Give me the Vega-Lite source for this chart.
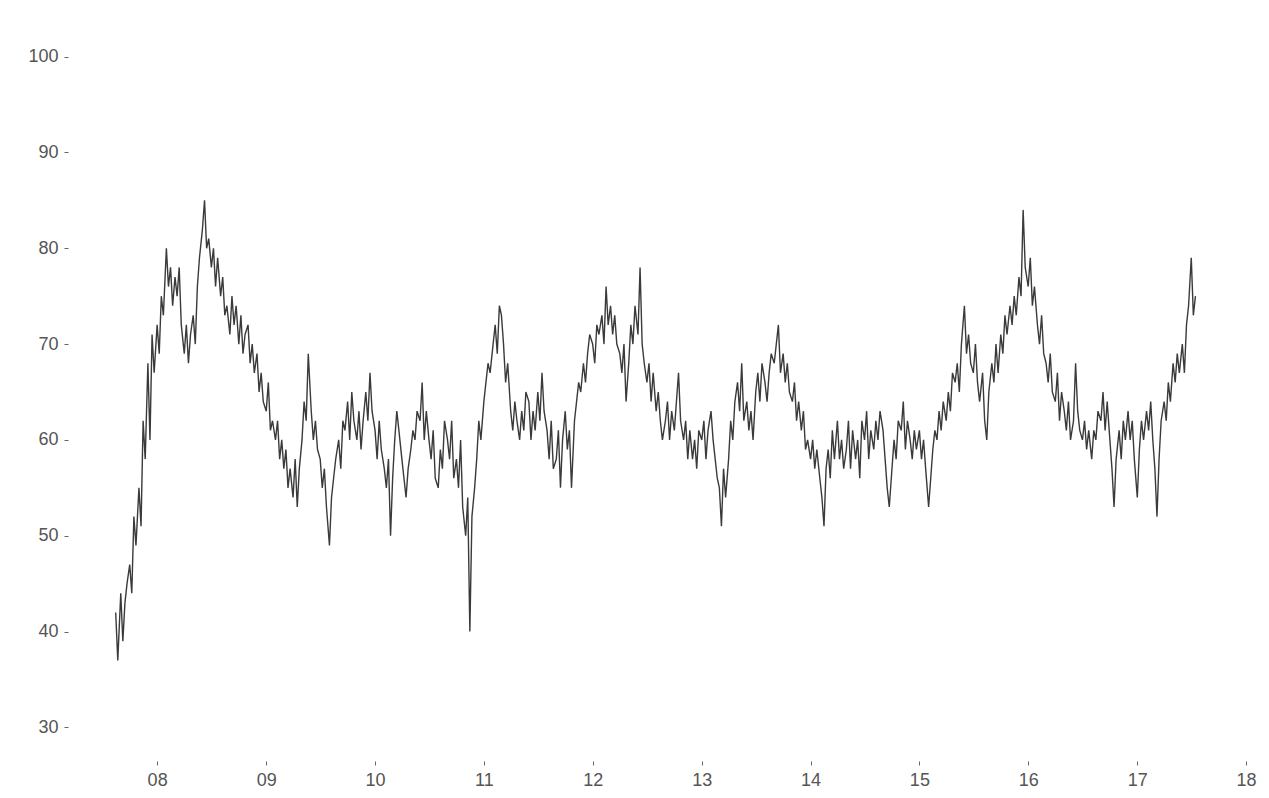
{
"$schema": "https://vega.github.io/schema/vega-lite/v6.json",
"autosize": {"type": "none"},
"padding": {"left": 68, "top": 23, "right": 5, "bottom": 37},
"width": 1196,
"height": 738,
"background": "white",
"config": {"view": {"stroke": null}, "font": "Liberation Sans"},
"datasets": {"s": [
{"d":"2007-08-15","v":42},{"d":"2007-08-22","v":37},
{"d":"2007-09-01","v":44},{"d":"2007-09-08","v":39},{"d":"2007-09-15","v":43},{"d":"2007-09-22","v":45},
{"d":"2007-10-01","v":47},{"d":"2007-10-08","v":44},{"d":"2007-10-15","v":52},{"d":"2007-10-22","v":49},
{"d":"2007-11-01","v":55},{"d":"2007-11-08","v":51},{"d":"2007-11-15","v":62},{"d":"2007-11-22","v":58},
{"d":"2007-12-01","v":68},{"d":"2007-12-08","v":60},{"d":"2007-12-15","v":71},{"d":"2007-12-22","v":67},
{"d":"2008-01-01","v":72},{"d":"2008-01-08","v":69},{"d":"2008-01-15","v":75},{"d":"2008-01-22","v":73},
{"d":"2008-02-01","v":80},{"d":"2008-02-08","v":76},{"d":"2008-02-15","v":78},{"d":"2008-02-22","v":74},
{"d":"2008-03-01","v":77},{"d":"2008-03-08","v":75},{"d":"2008-03-15","v":78},{"d":"2008-03-22","v":72},
{"d":"2008-04-01","v":69},{"d":"2008-04-08","v":72},{"d":"2008-04-15","v":68},{"d":"2008-04-22","v":71},
{"d":"2008-05-01","v":73},{"d":"2008-05-08","v":70},{"d":"2008-05-15","v":76},{"d":"2008-05-22","v":79},
{"d":"2008-06-01","v":82},{"d":"2008-06-08","v":85},{"d":"2008-06-15","v":80},{"d":"2008-06-22","v":81},
{"d":"2008-07-01","v":78},{"d":"2008-07-08","v":80},{"d":"2008-07-15","v":76},{"d":"2008-07-22","v":79},
{"d":"2008-08-01","v":75},{"d":"2008-08-08","v":77},{"d":"2008-08-15","v":73},{"d":"2008-08-22","v":74},
{"d":"2008-09-01","v":71},{"d":"2008-09-08","v":75},{"d":"2008-09-15","v":72},{"d":"2008-09-22","v":74},
{"d":"2008-10-01","v":70},{"d":"2008-10-08","v":73},{"d":"2008-10-15","v":69},{"d":"2008-10-22","v":71},
{"d":"2008-11-01","v":72},{"d":"2008-11-08","v":68},{"d":"2008-11-15","v":70},{"d":"2008-11-22","v":67},
{"d":"2008-12-01","v":69},{"d":"2008-12-08","v":65},{"d":"2008-12-15","v":67},{"d":"2008-12-22","v":64},
{"d":"2009-01-01","v":63},{"d":"2009-01-08","v":66},{"d":"2009-01-15","v":61},{"d":"2009-01-22","v":62},
{"d":"2009-02-01","v":60},{"d":"2009-02-08","v":62},{"d":"2009-02-15","v":58},{"d":"2009-02-22","v":60},
{"d":"2009-03-01","v":57},{"d":"2009-03-08","v":59},{"d":"2009-03-15","v":55},{"d":"2009-03-22","v":57},
{"d":"2009-04-01","v":54},{"d":"2009-04-08","v":58},{"d":"2009-04-15","v":53},{"d":"2009-04-22","v":57},
{"d":"2009-05-01","v":60},{"d":"2009-05-08","v":64},{"d":"2009-05-15","v":62},{"d":"2009-05-22","v":69},
{"d":"2009-06-01","v":63},{"d":"2009-06-08","v":60},{"d":"2009-06-15","v":62},{"d":"2009-06-22","v":59},
{"d":"2009-07-01","v":58},{"d":"2009-07-08","v":55},{"d":"2009-07-15","v":57},{"d":"2009-07-22","v":53},
{"d":"2009-08-01","v":49},{"d":"2009-08-08","v":54},{"d":"2009-08-15","v":56},{"d":"2009-08-22","v":58},
{"d":"2009-09-01","v":60},{"d":"2009-09-08","v":57},{"d":"2009-09-15","v":62},{"d":"2009-09-22","v":61},
{"d":"2009-10-01","v":64},{"d":"2009-10-08","v":60},{"d":"2009-10-15","v":65},{"d":"2009-10-22","v":62},
{"d":"2009-11-01","v":60},{"d":"2009-11-08","v":63},{"d":"2009-11-15","v":59},{"d":"2009-11-22","v":62},
{"d":"2009-12-01","v":65},{"d":"2009-12-08","v":62},{"d":"2009-12-15","v":67},{"d":"2009-12-22","v":63},
{"d":"2010-01-01","v":61},{"d":"2010-01-08","v":58},{"d":"2010-01-15","v":62},{"d":"2010-01-22","v":59},
{"d":"2010-02-01","v":57},{"d":"2010-02-08","v":55},{"d":"2010-02-15","v":58},{"d":"2010-02-22","v":50},
{"d":"2010-03-01","v":56},{"d":"2010-03-08","v":60},{"d":"2010-03-15","v":63},{"d":"2010-03-22","v":61},
{"d":"2010-04-01","v":58},{"d":"2010-04-08","v":56},{"d":"2010-04-15","v":54},{"d":"2010-04-22","v":57},
{"d":"2010-05-01","v":59},{"d":"2010-05-08","v":61},{"d":"2010-05-15","v":60},{"d":"2010-05-22","v":63},
{"d":"2010-06-01","v":62},{"d":"2010-06-08","v":66},{"d":"2010-06-15","v":60},{"d":"2010-06-22","v":63},
{"d":"2010-07-01","v":60},{"d":"2010-07-08","v":58},{"d":"2010-07-15","v":61},{"d":"2010-07-22","v":56},
{"d":"2010-08-01","v":55},{"d":"2010-08-08","v":59},{"d":"2010-08-15","v":57},{"d":"2010-08-22","v":62},
{"d":"2010-09-01","v":60},{"d":"2010-09-08","v":58},{"d":"2010-09-15","v":62},{"d":"2010-09-22","v":56},
{"d":"2010-10-01","v":58},{"d":"2010-10-08","v":55},{"d":"2010-10-15","v":60},{"d":"2010-10-22","v":53},
{"d":"2010-11-01","v":50},{"d":"2010-11-08","v":54},{"d":"2010-11-15","v":40},{"d":"2010-11-22","v":52},
{"d":"2010-12-01","v":55},{"d":"2010-12-08","v":58},{"d":"2010-12-15","v":62},{"d":"2010-12-22","v":60},
{"d":"2011-01-01","v":64},{"d":"2011-01-08","v":66},{"d":"2011-01-15","v":68},{"d":"2011-01-22","v":67},
{"d":"2011-02-01","v":70},{"d":"2011-02-08","v":72},{"d":"2011-02-15","v":69},{"d":"2011-02-22","v":74},
{"d":"2011-03-01","v":73},{"d":"2011-03-08","v":70},{"d":"2011-03-15","v":66},{"d":"2011-03-22","v":68},
{"d":"2011-04-01","v":63},{"d":"2011-04-08","v":61},{"d":"2011-04-15","v":64},{"d":"2011-04-22","v":62},
{"d":"2011-05-01","v":60},{"d":"2011-05-08","v":63},{"d":"2011-05-15","v":61},{"d":"2011-05-22","v":65},
{"d":"2011-06-01","v":64},{"d":"2011-06-08","v":60},{"d":"2011-06-15","v":63},{"d":"2011-06-22","v":61},
{"d":"2011-07-01","v":65},{"d":"2011-07-08","v":62},{"d":"2011-07-15","v":67},{"d":"2011-07-22","v":63},
{"d":"2011-08-01","v":61},{"d":"2011-08-08","v":58},{"d":"2011-08-15","v":62},{"d":"2011-08-22","v":57},
{"d":"2011-09-01","v":58},{"d":"2011-09-08","v":61},{"d":"2011-09-15","v":55},{"d":"2011-09-22","v":60},
{"d":"2011-10-01","v":63},{"d":"2011-10-08","v":59},{"d":"2011-10-15","v":61},{"d":"2011-10-22","v":55},
{"d":"2011-11-01","v":62},{"d":"2011-11-08","v":64},{"d":"2011-11-15","v":66},{"d":"2011-11-22","v":65},
{"d":"2011-12-01","v":68},{"d":"2011-12-08","v":66},{"d":"2011-12-15","v":69},{"d":"2011-12-22","v":71},
{"d":"2012-01-01","v":70},{"d":"2012-01-08","v":68},{"d":"2012-01-15","v":72},{"d":"2012-01-22","v":71},
{"d":"2012-02-01","v":73},{"d":"2012-02-08","v":70},{"d":"2012-02-15","v":76},{"d":"2012-02-22","v":72},
{"d":"2012-03-01","v":74},{"d":"2012-03-08","v":71},{"d":"2012-03-15","v":73},{"d":"2012-03-22","v":70},
{"d":"2012-04-01","v":69},{"d":"2012-04-08","v":67},{"d":"2012-04-15","v":70},{"d":"2012-04-22","v":64},
{"d":"2012-05-01","v":68},{"d":"2012-05-08","v":72},{"d":"2012-05-15","v":70},{"d":"2012-05-22","v":74},
{"d":"2012-06-01","v":71},{"d":"2012-06-08","v":78},{"d":"2012-06-15","v":70},{"d":"2012-06-22","v":68},
{"d":"2012-07-01","v":66},{"d":"2012-07-08","v":68},{"d":"2012-07-15","v":64},{"d":"2012-07-22","v":67},
{"d":"2012-08-01","v":63},{"d":"2012-08-08","v":65},{"d":"2012-08-15","v":62},{"d":"2012-08-22","v":60},
{"d":"2012-09-01","v":62},{"d":"2012-09-08","v":64},{"d":"2012-09-15","v":60},{"d":"2012-09-22","v":63},
{"d":"2012-10-01","v":61},{"d":"2012-10-08","v":64},{"d":"2012-10-15","v":67},{"d":"2012-10-22","v":62},
{"d":"2012-11-01","v":60},{"d":"2012-11-08","v":62},{"d":"2012-11-15","v":58},{"d":"2012-11-22","v":61},
{"d":"2012-12-01","v":58},{"d":"2012-12-08","v":60},{"d":"2012-12-15","v":57},{"d":"2012-12-22","v":61},
{"d":"2013-01-01","v":60},{"d":"2013-01-08","v":62},{"d":"2013-01-15","v":58},{"d":"2013-01-22","v":61},
{"d":"2013-02-01","v":63},{"d":"2013-02-08","v":60},{"d":"2013-02-15","v":58},{"d":"2013-02-22","v":56},
{"d":"2013-03-01","v":55},{"d":"2013-03-08","v":51},{"d":"2013-03-15","v":57},{"d":"2013-03-22","v":54},
{"d":"2013-04-01","v":58},{"d":"2013-04-08","v":62},{"d":"2013-04-15","v":60},{"d":"2013-04-22","v":64},
{"d":"2013-05-01","v":66},{"d":"2013-05-08","v":63},{"d":"2013-05-15","v":68},{"d":"2013-05-22","v":62},
{"d":"2013-06-01","v":64},{"d":"2013-06-08","v":61},{"d":"2013-06-15","v":63},{"d":"2013-06-22","v":60},
{"d":"2013-07-01","v":65},{"d":"2013-07-08","v":67},{"d":"2013-07-15","v":64},{"d":"2013-07-22","v":68},
{"d":"2013-08-01","v":66},{"d":"2013-08-08","v":64},{"d":"2013-08-15","v":67},{"d":"2013-08-22","v":69},
{"d":"2013-09-01","v":68},{"d":"2013-09-08","v":70},{"d":"2013-09-15","v":72},{"d":"2013-09-22","v":67},
{"d":"2013-10-01","v":69},{"d":"2013-10-08","v":66},{"d":"2013-10-15","v":68},{"d":"2013-10-22","v":65},
{"d":"2013-11-01","v":64},{"d":"2013-11-08","v":66},{"d":"2013-11-15","v":62},{"d":"2013-11-22","v":64},
{"d":"2013-12-01","v":61},{"d":"2013-12-08","v":63},{"d":"2013-12-15","v":59},{"d":"2013-12-22","v":60},
{"d":"2014-01-01","v":58},{"d":"2014-01-08","v":60},{"d":"2014-01-15","v":57},{"d":"2014-01-22","v":59},
{"d":"2014-02-01","v":56},{"d":"2014-02-08","v":54},{"d":"2014-02-15","v":51},{"d":"2014-02-22","v":57},
{"d":"2014-03-01","v":59},{"d":"2014-03-08","v":56},{"d":"2014-03-15","v":61},{"d":"2014-03-22","v":58},
{"d":"2014-04-01","v":62},{"d":"2014-04-08","v":58},{"d":"2014-04-15","v":60},{"d":"2014-04-22","v":57},
{"d":"2014-05-01","v":59},{"d":"2014-05-08","v":62},{"d":"2014-05-15","v":57},{"d":"2014-05-22","v":61},
{"d":"2014-06-01","v":58},{"d":"2014-06-08","v":60},{"d":"2014-06-15","v":56},{"d":"2014-06-22","v":62},
{"d":"2014-07-01","v":60},{"d":"2014-07-08","v":63},{"d":"2014-07-15","v":58},{"d":"2014-07-22","v":61},
{"d":"2014-08-01","v":59},{"d":"2014-08-08","v":62},{"d":"2014-08-15","v":60},{"d":"2014-08-22","v":63},
{"d":"2014-09-01","v":61},{"d":"2014-09-08","v":58},{"d":"2014-09-15","v":55},{"d":"2014-09-22","v":53},
{"d":"2014-10-01","v":57},{"d":"2014-10-08","v":60},{"d":"2014-10-15","v":58},{"d":"2014-10-22","v":62},
{"d":"2014-11-01","v":61},{"d":"2014-11-08","v":64},{"d":"2014-11-15","v":59},{"d":"2014-11-22","v":62},
{"d":"2014-12-01","v":60},{"d":"2014-12-08","v":58},{"d":"2014-12-15","v":61},{"d":"2014-12-22","v":59},
{"d":"2015-01-01","v":61},{"d":"2015-01-08","v":58},{"d":"2015-01-15","v":60},{"d":"2015-01-22","v":57},
{"d":"2015-02-01","v":53},{"d":"2015-02-08","v":56},{"d":"2015-02-15","v":59},{"d":"2015-02-22","v":61},
{"d":"2015-03-01","v":60},{"d":"2015-03-08","v":63},{"d":"2015-03-15","v":61},{"d":"2015-03-22","v":64},
{"d":"2015-04-01","v":62},{"d":"2015-04-08","v":65},{"d":"2015-04-15","v":63},{"d":"2015-04-22","v":67},
{"d":"2015-05-01","v":66},{"d":"2015-05-08","v":68},{"d":"2015-05-15","v":65},{"d":"2015-05-22","v":70},
{"d":"2015-06-01","v":74},{"d":"2015-06-08","v":69},{"d":"2015-06-15","v":71},{"d":"2015-06-22","v":68},
{"d":"2015-07-01","v":67},{"d":"2015-07-08","v":70},{"d":"2015-07-15","v":66},{"d":"2015-07-22","v":64},
{"d":"2015-08-01","v":67},{"d":"2015-08-08","v":62},{"d":"2015-08-15","v":60},{"d":"2015-08-22","v":65},
{"d":"2015-09-01","v":68},{"d":"2015-09-08","v":66},{"d":"2015-09-15","v":70},{"d":"2015-09-22","v":67},
{"d":"2015-10-01","v":71},{"d":"2015-10-08","v":69},{"d":"2015-10-15","v":73},{"d":"2015-10-22","v":71},
{"d":"2015-11-01","v":74},{"d":"2015-11-08","v":72},{"d":"2015-11-15","v":75},{"d":"2015-11-22","v":73},
{"d":"2015-12-01","v":77},{"d":"2015-12-08","v":75},{"d":"2015-12-15","v":84},{"d":"2015-12-22","v":78},
{"d":"2016-01-01","v":76},{"d":"2016-01-08","v":79},{"d":"2016-01-15","v":74},{"d":"2016-01-22","v":76},
{"d":"2016-02-01","v":72},{"d":"2016-02-08","v":70},{"d":"2016-02-15","v":73},{"d":"2016-02-22","v":69},
{"d":"2016-03-01","v":68},{"d":"2016-03-08","v":66},{"d":"2016-03-15","v":69},{"d":"2016-03-22","v":65},
{"d":"2016-04-01","v":64},{"d":"2016-04-08","v":67},{"d":"2016-04-15","v":62},{"d":"2016-04-22","v":65},
{"d":"2016-05-01","v":63},{"d":"2016-05-08","v":61},{"d":"2016-05-15","v":64},{"d":"2016-05-22","v":60},
{"d":"2016-06-01","v":62},{"d":"2016-06-08","v":68},{"d":"2016-06-15","v":63},{"d":"2016-06-22","v":61},
{"d":"2016-07-01","v":60},{"d":"2016-07-08","v":62},{"d":"2016-07-15","v":59},{"d":"2016-07-22","v":61},
{"d":"2016-08-01","v":58},{"d":"2016-08-08","v":61},{"d":"2016-08-15","v":60},{"d":"2016-08-22","v":63},
{"d":"2016-09-01","v":62},{"d":"2016-09-08","v":65},{"d":"2016-09-15","v":61},{"d":"2016-09-22","v":64},
{"d":"2016-10-01","v":60},{"d":"2016-10-08","v":57},{"d":"2016-10-15","v":53},{"d":"2016-10-22","v":58},
{"d":"2016-11-01","v":61},{"d":"2016-11-08","v":58},{"d":"2016-11-15","v":62},{"d":"2016-11-22","v":60},
{"d":"2016-12-01","v":63},{"d":"2016-12-08","v":60},{"d":"2016-12-15","v":62},{"d":"2016-12-22","v":58},
{"d":"2017-01-01","v":54},{"d":"2017-01-08","v":59},{"d":"2017-01-15","v":62},{"d":"2017-01-22","v":60},
{"d":"2017-02-01","v":63},{"d":"2017-02-08","v":61},{"d":"2017-02-15","v":64},{"d":"2017-02-22","v":60},
{"d":"2017-03-01","v":57},{"d":"2017-03-08","v":52},{"d":"2017-03-15","v":58},{"d":"2017-03-22","v":62},
{"d":"2017-04-01","v":64},{"d":"2017-04-08","v":62},{"d":"2017-04-15","v":66},{"d":"2017-04-22","v":64},
{"d":"2017-05-01","v":68},{"d":"2017-05-08","v":66},{"d":"2017-05-15","v":69},{"d":"2017-05-22","v":67},
{"d":"2017-06-01","v":70},{"d":"2017-06-08","v":67},{"d":"2017-06-15","v":72},{"d":"2017-06-22","v":74},
{"d":"2017-07-01","v":79},{"d":"2017-07-08","v":73},{"d":"2017-07-15","v":75}
]},
"data": {"name": "s"},
"mark": {"type": "line", "color": "#3a3a3a", "strokeWidth": 1.4, "clip": true},
"encoding": {
  "x": {"field": "d", "type": "temporal",
    "scale": {"type": "utc", "domain": [{"year": 2007, "month": 3, "date": 8, "utc": true}, {"year": 2018, "month": 3, "date": 2, "utc": true}]},
    "axis": {"title": null, "format": "%y", "domain": false, "grid": false, "tickSize": 4, "tickColor": "#666", "labelColor": "#555", "labelFontSize": 18, "labelPadding": 6,
      "values": [{"year":2008,"month":1,"date":1,"utc":true},{"year":2009,"month":1,"date":1,"utc":true},{"year":2010,"month":1,"date":1,"utc":true},{"year":2011,"month":1,"date":1,"utc":true},{"year":2012,"month":1,"date":1,"utc":true},{"year":2013,"month":1,"date":1,"utc":true},{"year":2014,"month":1,"date":1,"utc":true},{"year":2015,"month":1,"date":1,"utc":true},{"year":2016,"month":1,"date":1,"utc":true},{"year":2017,"month":1,"date":1,"utc":true},{"year":2018,"month":1,"date":1,"utc":true}]}},
  "y": {"field": "v", "type": "quantitative",
    "scale": {"domain": [26.5, 103.5], "nice": false, "zero": false},
    "axis": {"title": null, "domain": false, "grid": false, "tickSize": 4, "tickColor": "#666", "labelColor": "#555", "labelFontSize": 18, "labelPadding": 6, "values": [30, 40, 50, 60, 70, 80, 90, 100]}}
}
}
